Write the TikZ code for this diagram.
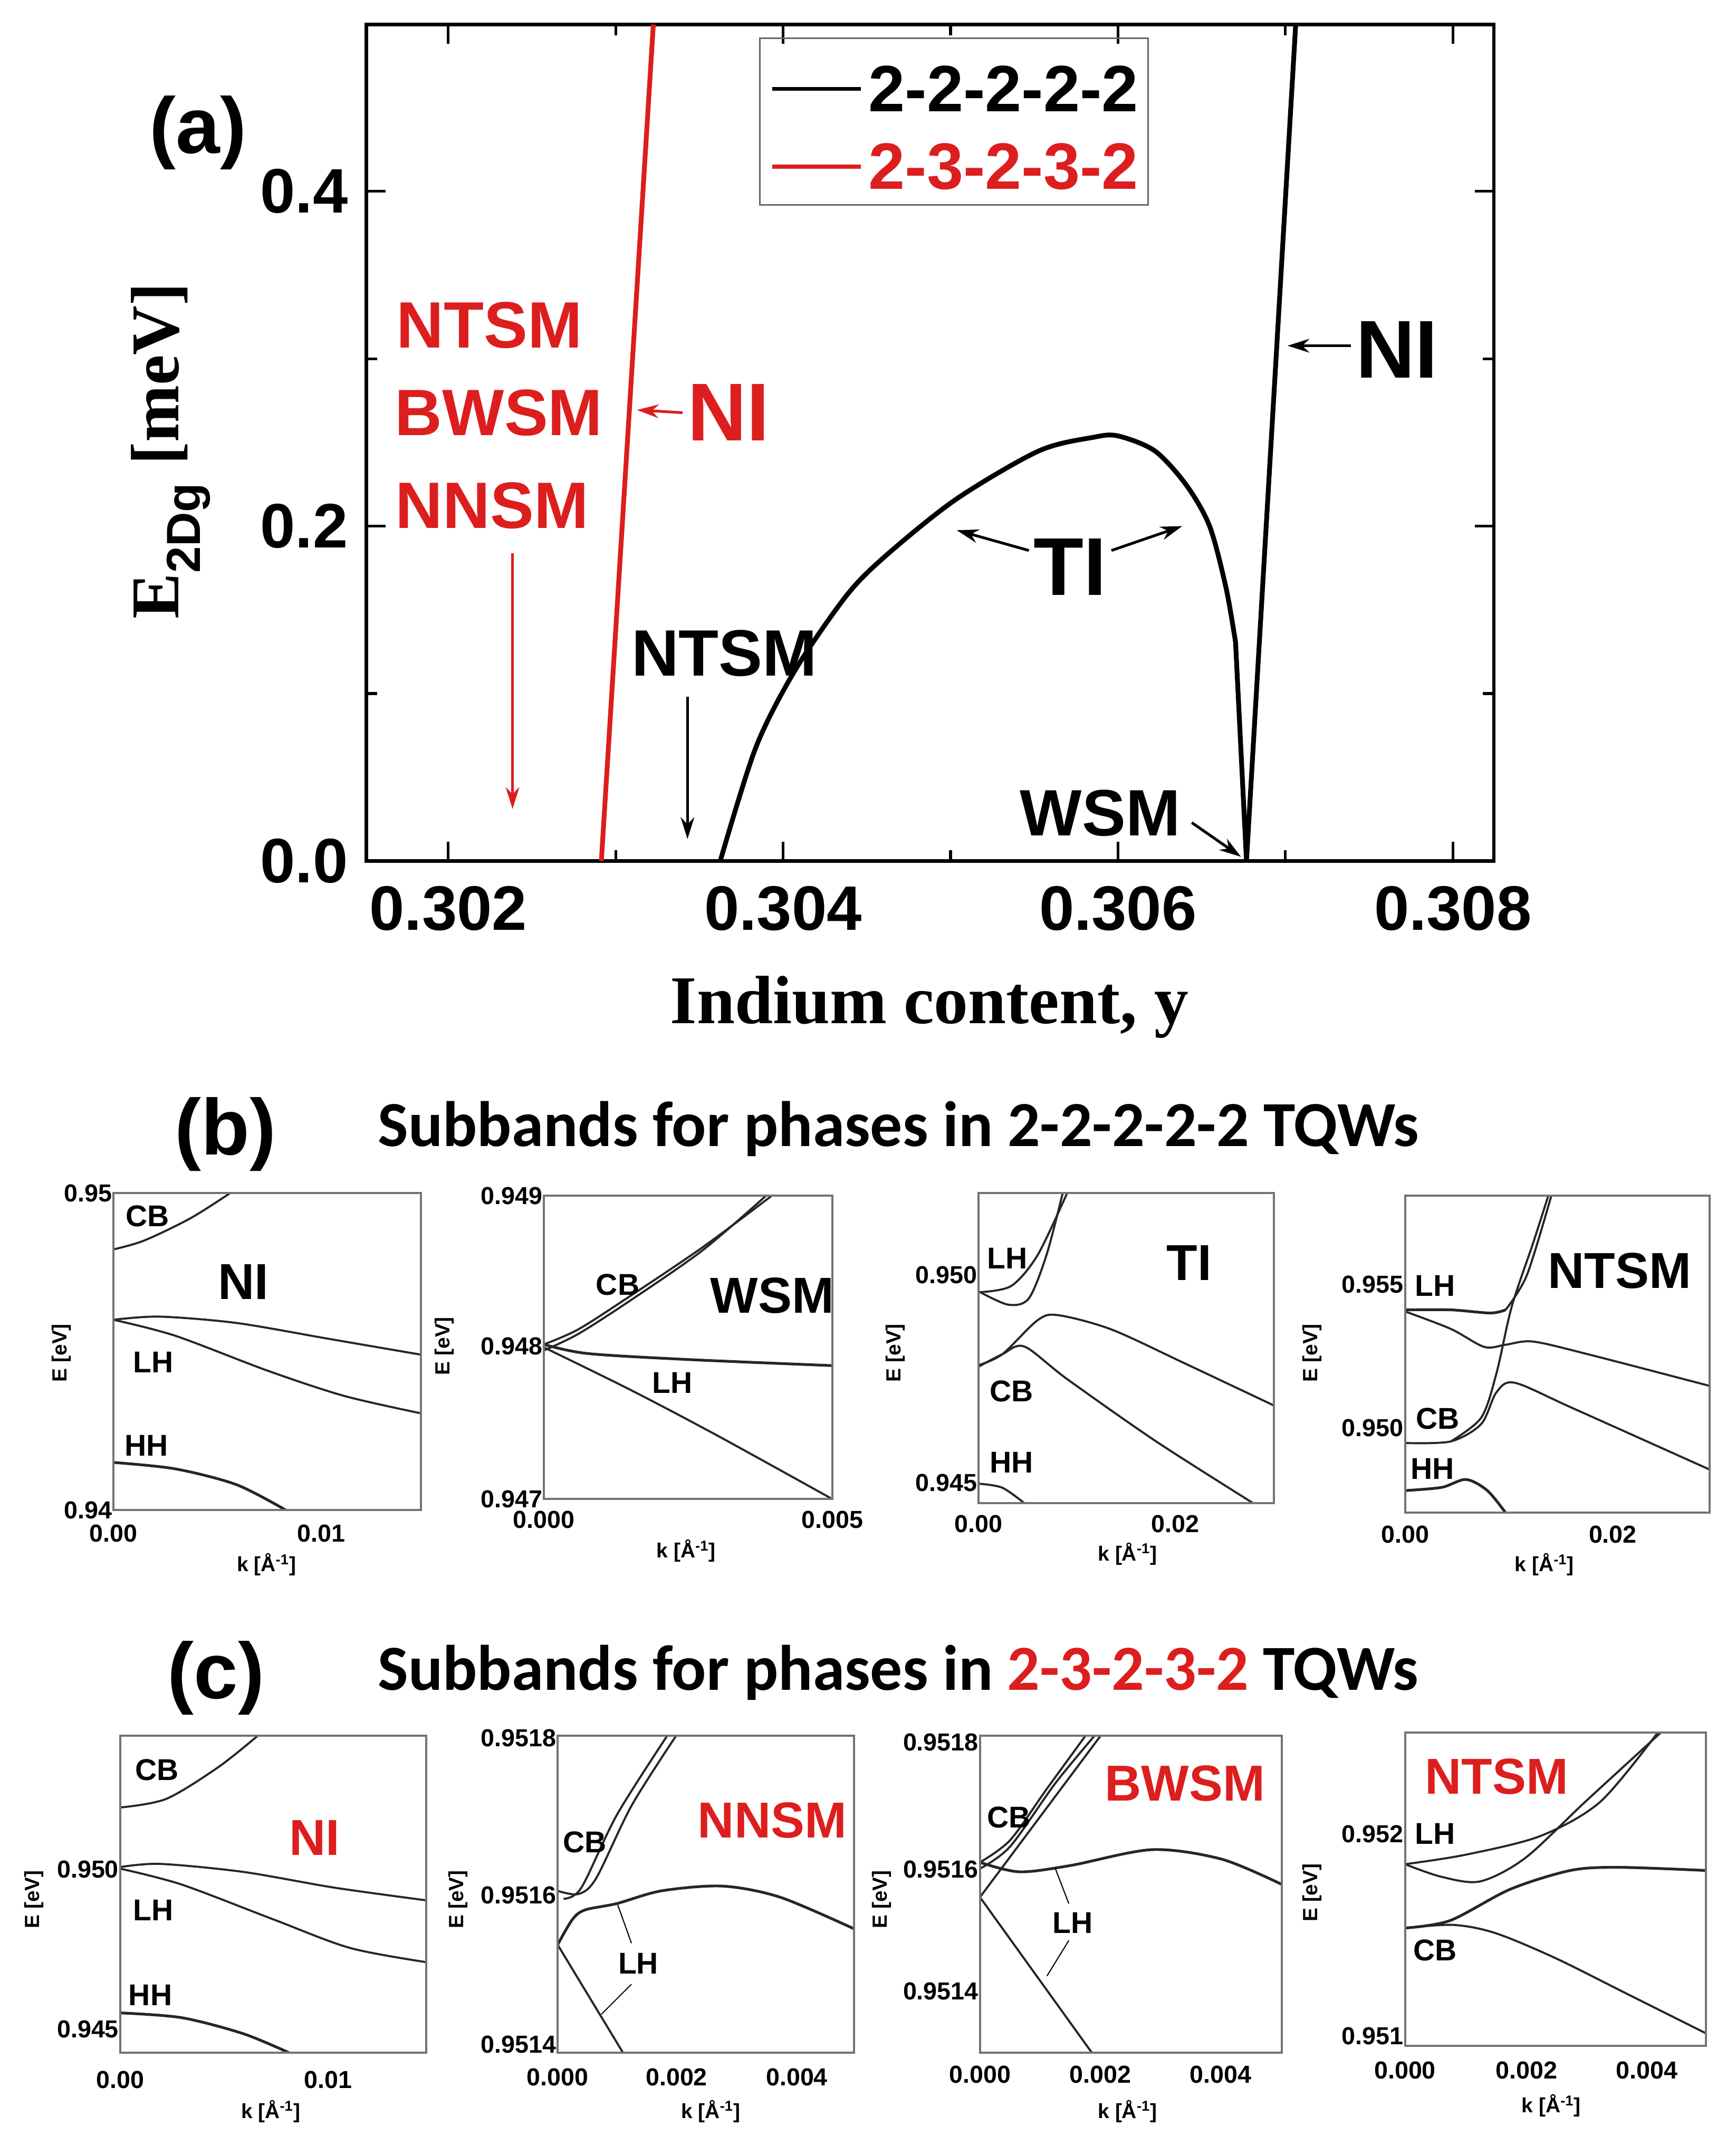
\documentclass[tikz,border=0pt]{standalone}
\usepackage{fontspec}
\setmainfont{Liberation Sans}
\newfontfamily\serifbf{Liberation Serif}
\newfontfamily\carlito{Carlito}
\usetikzlibrary{arrows.meta}
\definecolor{myred}{RGB}{220,30,30}
\tikzset{
 frame/.style={line width=1.6pt,draw=black!55},
 bigframe/.style={line width=2.6pt},
 curve/.style={line width=1.5pt,black!85},
 tick/.style={font=\fontsize{18}{18}\selectfont\bfseries},
 axt/.style={font=\fontsize{15}{15}\selectfont\bfseries},
 band/.style={font=\fontsize{22}{22}\selectfont\bfseries},
 phase/.style={font=\fontsize{37}{37}\selectfont\bfseries},
 atick/.style={font=\fontsize{46}{46}\selectfont\bfseries},
 alab/.style={font=\fontsize{48}{48}\selectfont\bfseries},
 arr/.style={line width=2pt,-{Stealth[length=16pt,width=10pt]}},
 ttl/.style={font=\fontsize{47}{47}\selectfont\carlito\bfseries},
 plab/.style={font=\fontsize{58}{58}\selectfont\bfseries},
}
\begin{document}
\begin{tikzpicture}[x=1pt,y=-1pt]
\useasboundingbox (0,0) rectangle (1270,1577);
% ================= panel (a)
\node[plab] (pa) at (145,97) {(a)};
\draw[bigframe] (268,18) rectangle (1093,630);
\foreach \y/\t in {630/0.0,385/0.2,140/0.4}{
 \draw[line width=2pt] (268,\y) -- +(14,0); \draw[line width=2pt] (1093,\y) -- +(-14,0);
 \node[atick,anchor=east] at (258,\y) {\t};}
\foreach \y in {507.5,262.5}{\draw[line width=2pt] (268,\y) -- +(8,0); \draw[line width=2pt] (1093,\y) -- +(-8,0);}
\foreach \x/\t in {328/0.302,573/0.304,818/0.306,1063/0.308}{
 \draw[line width=2pt] (\x,630) -- +(0,-14); \draw[line width=2pt] (\x,18) -- +(0,14);
 \node[atick] at (\x,665) {\t};}
\foreach \x in {450.5,695.5,940.5}{\draw[line width=2pt] (\x,630) -- +(0,-8); \draw[line width=2pt] (\x,18) -- +(0,8);}
\node[font=\fontsize{50}{50}\selectfont\serifbf\bfseries] (xl) at (680,737) {Indium content, y};
\node[font=\fontsize{50}{50}\selectfont\serifbf\bfseries,rotate=90] (yl) at (125,330) {E$_{\mathbf{2Dg}}$ [meV]};
% curves
\draw[line width=3.5pt,myred] (440,630) -- (478,18);
\draw[line width=3.5pt] plot[smooth,tension=0.5] coordinates {(527,630) (553,547) (582,490) (620,435) (650,405) (700,365) (760,330) (800,320) (818,319) (845,330) (868,355) (885,385) (897,430) (904,470)} -- (912,630) -- (948,18);
% legend
\draw[line width=1.2pt,black!60] (556,28) rectangle (840,150);
\draw[line width=3pt] (565,65) -- (630,65);
\node[alab,anchor=west] (l1) at (632,65) {2-2-2-2-2};
\draw[line width=3pt,myred] (565,122) -- (630,122);
\node[alab,anchor=west,myred] (l2) at (632,122) {2-3-2-3-2};
% labels
\node[alab,myred] (rn1) at (358,238) {NTSM};
\node[alab,myred] (rn2) at (365,302) {BWSM};
\node[alab,myred] (rn3) at (360,370) {NNSM};
\coordinate (ra) at (375,592);
\draw[arr,myred] (375,405) -- (ra);
\node[font=\fontsize{60}{60}\selectfont\bfseries,myred] (rni) at (533,302) {NI};
\coordinate (rnia) at (466,300);
\draw[arr,myred] (rni.west) -- (rnia);
\node[font=\fontsize{60}{60}\selectfont\bfseries] (bni) at (1022,256) {NI};
\coordinate (bnia) at (942,253);
\draw[arr] (bni.west) ++(0,-3) -- (bnia);
\node[font=\fontsize{60}{60}\selectfont\bfseries] (ti) at (783,415) {TI};
\coordinate (tia) at (700,388); \coordinate (tib) at (865,385);
\draw[arr] (ti.north west) ++(0,12) -- (tia);
\draw[arr] (ti.north east) ++(0,12) -- (tib);
\node[alab] (nt) at (530,478) {NTSM};
\coordinate (nta) at (503,614);
\draw[arr] (503,510) -- (nta);
\node[alab] (ws) at (805,595) {WSM};
\coordinate (wsa) at (908,627);
\draw[arr] (872,602) -- (wsa);
% ================= panel (b)
\node[plab] (pb) at (165,830) {(b)};
\node[ttl,anchor=west] (tb) at (273,826) {Subbands for phases in 2-2-2-2-2 TQWs};
% b1
\begin{scope}[shift={(83,873)},xscale=225,yscale=232]
\draw[curve] plot[smooth] coordinates {(0,.178) (.1,.15) (.25,.08) (.38,0)};
\draw[curve] plot[smooth] coordinates {(0,.4) (.15,.39) (.4,.41) (.7,.46) (1,.51)};
\draw[curve] plot[smooth] coordinates {(0,.4) (.2,.45) (.5,.56) (.75,.64) (1,.695)};
\draw[curve,line width=2pt] plot[smooth] coordinates {(0,.85) (.2,.87) (.4,.92) (.56,1)};
\end{scope}
\draw[frame] (83,873) rectangle (308,1105);
% b2
\begin{scope}[shift={(398,875)},xscale=211,yscale=222]
\draw[curve] plot[smooth] coordinates {(0,.49) (.12,.44) (.3,.33) (.55,.17) (.79,0)};
\draw[curve] plot[smooth] coordinates {(0,.51) (.12,.455) (.3,.345) (.55,.18) (.77,0)};
\draw[curve,line width=2pt] plot[smooth] coordinates {(0,.49) (.15,.52) (.5,.54) (1,.56)};
\draw[curve] plot[smooth] coordinates {(0,.5) (.3,.64) (.6,.79) (1,1)};
\end{scope}
\draw[frame] (398,875) rectangle (609,1097);
% b3
\begin{scope}[shift={(716,873)},xscale=216,yscale=227]
\draw[curve] plot[smooth] coordinates {(0,.317) (.1,.36) (.17,.34) (.23,.2) (.285,0)};
\draw[curve] plot[smooth] coordinates {(0,.32) (.11,.3) (.2,.2) (.3,0)};
\draw[curve] plot[smooth] coordinates {(0,.555) (.08,.52) (.2,.41) (.27,.394) (.45,.44) (.7,.55) (1,.685)};
\draw[curve] plot[smooth] coordinates {(0,.56) (.08,.52) (.155,.495) (.3,.6) (.6,.8) (.93,1)};
\draw[curve] plot[smooth] coordinates {(0,.937) (.08,.95) (.155,1)};
\end{scope}
\draw[frame] (716,873) rectangle (932,1100);
% b4
\begin{scope}[shift={(1028,875)},xscale=223,yscale=232]
\draw[curve,line width=2pt] plot[smooth] coordinates {(0,.36) (.15,.36) (.28,.37) (.33,.36)};
\draw[curve] plot[smooth] coordinates {(.33,.36) (.4,.25) (.48,0)};
\draw[curve] plot[smooth] coordinates {(0,.365) (.15,.42) (.26,.477) (.33,.47) (.42,.46) (.6,.5) (1,.6)};
\draw[curve] plot[smooth] coordinates {(0,.78) (.15,.775) (.25,.72) (.3,.62) (.36,.59) (.55,.67) (1,.864)};
\draw[curve] plot[smooth] coordinates {(.15,.775) (.25,.7) (.3,.56) (.35,.35) (.42,.15) (.47,0)};
\draw[curve,line width=2pt] plot[smooth] coordinates {(0,.93) (.12,.92) (.2,.895) (.27,.93) (.33,1)};
\end{scope}
\draw[frame] (1028,875) rectangle (1251,1107);
% b tick labels
\foreach \x/\y/\t in {83/873/0.95,83/1105/0.94,398/875/0.949,398/985/0.948,398/1097/0.947,716/933/0.950,716/1085/0.945,1028/940/0.955,1028/1045/0.950}
 {\node[tick,anchor=east,inner sep=1pt] at (\x,\y) {\t};}
\foreach \x/\y/\t in {83/1122/0.00,235/1122/0.01,398/1112/0.000,609/1112/0.005,716/1115/0.00,860/1115/0.02,1028/1123/0.00,1180/1123/0.02}
 {\node[tick] at (\x,\y) {\t};}
\foreach \x/\y in {45/990,325/985,655/990,960/990,25/1390,335/1390,645/1390,960/1385}
 {\node[axt,rotate=90] at (\x,\y) {E [eV]};}
\foreach \x/\y in {195/1145,502/1135,825/1137,1130/1145}
 {\node[axt] at (\x,\y) {k [Å\textsuperscript{-1}]};}
\node[band] (b1cb) at (108,890) {CB};
\node[phase] (b1ni) at (178,938) {NI};
\node[band] (b1lh) at (112,997) {LH};
\node[band] (b1hh) at (107,1058) {HH};
\node[band] (b2cb) at (452,940) {CB};
\node[phase] (b2ws) at (565,948) {WSM};
\node[band] (b2lh) at (492,1012) {LH};
\node[band] (b3lh) at (737,921) {LH};
\node[phase] (b3ti) at (870,924) {TI};
\node[band] (b3cb) at (740,1018) {CB};
\node[band] (b3hh) at (740,1070) {HH};
\node[band] (b4lh) at (1050,941) {LH};
\node[phase] (b4nt) at (1185,930) {NTSM};
\node[band] (b4cb) at (1052,1038) {CB};
\node[band] (b4hh) at (1048,1075) {HH};
% ================= panel (c)
\node[plab] (pc) at (158,1228) {(c)};
\node[ttl,anchor=west] (tc) at (273,1224) {Subbands for phases in \textcolor{myred}{2-3-2-3-2} TQWs};
% c1
\begin{scope}[shift={(88,1270)},xscale=224,yscale=232]
\draw[curve] plot[smooth] coordinates {(0,.227) (.15,.2) (.32,.1) (.45,0)};
\draw[curve] plot[smooth] coordinates {(0,.415) (.13,.405) (.4,.43) (.7,.48) (1,.52)};
\draw[curve] plot[smooth] coordinates {(0,.42) (.2,.47) (.5,.58) (.75,.67) (1,.715)};
\draw[curve,line width=2pt] plot[smooth] coordinates {(0,.875) (.2,.89) (.4,.94) (.55,1)};
\end{scope}
\draw[frame] (88,1270) rectangle (312,1502);
% c2
\begin{scope}[shift={(408,1270)},xscale=217,yscale=232]
\draw[curve] plot[smooth] coordinates {(.02,.515) (.08,.48) (.2,.25) (.37,0)};
\draw[curve] plot[smooth] coordinates {(0,.49) (.07,.5) (.13,.45) (.25,.22) (.4,0)};
\draw[curve,line width=2pt] plot[smooth] coordinates {(0,.66) (.05,.58) (.093,.55) (.2,.53) (.35,.49) (.555,.475) (.75,.51) (1,.61)};
\draw[curve] (0,.66) -- (.22,1);
\end{scope}
\draw[frame] (408,1270) rectangle (625,1502);
\coordinate (c2p) at (452,1394); \coordinate (c2q) at (440,1474);
\draw[line width=0.8pt] (462,1422) -- (c2p);
\draw[line width=0.8pt] (462,1452) -- (c2q);
% c3
\begin{scope}[shift={(717,1270)},xscale=221,yscale=232]
\draw[curve] plot[smooth] coordinates {(0,.4) (.1,.33) (.22,.17) (.35,0)};
\draw[curve] plot[smooth] coordinates {(0,.42) (.1,.35) (.25,.15) (.38,0)};
\draw[curve] (0,.51) -- (.4,0);
\draw[curve] (0,.51) -- (.37,1);
\draw[curve,line width=2pt] plot[smooth] coordinates {(0,.4) (.13,.43) (.3,.41) (.57,.36) (.8,.39) (1,.47)};
\end{scope}
\draw[frame] (717,1270) rectangle (938,1502);
\coordinate (c3p) at (772,1367); \coordinate (c3q) at (766,1446);
\draw[line width=0.8pt] (782,1393) -- (c3p);
\draw[line width=0.8pt] (782,1420) -- (c3q);
% c4
\begin{scope}[shift={(1028,1268)},xscale=220,yscale=229]
\draw[curve] plot[smooth] coordinates {(0,.42) (.2,.39) (.45,.33) (.65,.22) (.84,0)};
\draw[curve] plot[smooth] coordinates {(0,.42) (.12,.46) (.25,.475) (.4,.4) (.6,.22) (.85,0)};
\draw[curve,line width=2pt] plot[smooth] coordinates {(0,.624) (.15,.6) (.35,.5) (.55,.44) (.71,.43) (1,.44)};
\draw[curve] plot[smooth] coordinates {(0,.624) (.16,.614) (.3,.64) (.5,.72) (.75,.84) (1,.96)};
\end{scope}
\draw[frame] (1028,1268) rectangle (1248,1497);
\foreach \x/\y/\t in {88/1368/0.950,88/1485/0.945,408/1272/0.9518,408/1387/0.9516,408/1496/0.9514,717/1275/0.9518,717/1368/0.9516,717/1457/0.9514,1028/1342/0.952,1028/1490/0.951}
 {\node[tick,anchor=east,inner sep=1pt] at (\x,\y) {\t};}
\foreach \x/\y/\t in {88/1522/0.00,240/1522/0.01,408/1520/0.000,495/1520/0.002,583/1520/0.004,717/1518/0.000,805/1518/0.002,893/1518/0.004,1028/1515/0.000,1117/1515/0.002,1205/1515/0.004}
 {\node[tick] at (\x,\y) {\t};}
\foreach \x/\y in {198/1545,520/1545,825/1545,1135/1541}
 {\node[axt] at (\x,\y) {k [Å\textsuperscript{-1}]};}
\node[band] (c1cb) at (115,1295) {CB};
\node[phase,myred] (c1ni) at (230,1345) {NI};
\node[band] (c1lh) at (112,1398) {LH};
\node[band] (c1hh) at (110,1460) {HH};
\node[band] (c2cb) at (428,1348) {CB};
\node[phase,myred] (c2nn) at (565,1332) {NNSM};
\node[band] (c2lh) at (467,1437) {LH};
\node[band] (c3cb) at (738,1330) {CB};
\node[phase,myred] (c3bw) at (867,1305) {BWSM};
\node[band] (c3lh) at (785,1407) {LH};
\node[band] (c4lh) at (1050,1342) {LH};
\node[phase,myred] (c4nt) at (1095,1300) {NTSM};
\node[band] (c4cb) at (1050,1427) {CB};
\end{tikzpicture}
\end{document}
